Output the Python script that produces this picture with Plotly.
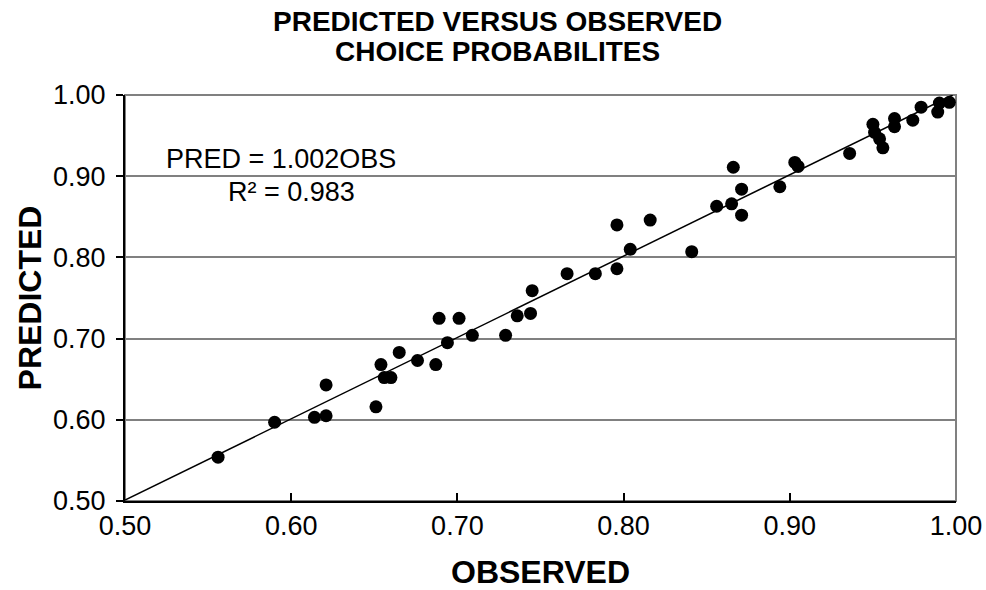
import plotly.graph_objects as go

observed = [0.556, 0.590, 0.614, 0.621, 0.621, 0.651, 0.654, 0.656, 0.660, 0.665,
            0.676, 0.687, 0.689, 0.694, 0.701, 0.709, 0.729, 0.736, 0.744, 0.745,
            0.766, 0.783, 0.796, 0.796, 0.804, 0.816, 0.841, 0.856, 0.865, 0.866,
            0.871, 0.871, 0.894, 0.903, 0.905, 0.936, 0.950, 0.951, 0.954, 0.956,
            0.963, 0.963, 0.974, 0.979, 0.989, 0.990, 0.996]
predicted = [0.554, 0.597, 0.603, 0.605, 0.643, 0.616, 0.668, 0.652, 0.652, 0.683,
             0.673, 0.668, 0.725, 0.695, 0.725, 0.704, 0.704, 0.728, 0.731, 0.759,
             0.780, 0.780, 0.786, 0.840, 0.810, 0.846, 0.807, 0.863, 0.866, 0.911,
             0.884, 0.852, 0.887, 0.917, 0.912, 0.928, 0.964, 0.954, 0.946, 0.935,
             0.971, 0.961, 0.969, 0.985, 0.979, 0.990, 0.991]
slope = 1.002
fit_x = [0.50, 1.0 / slope]
fit_y = [slope * v for v in fit_x]
tick_vals = [0.5, 0.6, 0.7, 0.8, 0.9, 1.0]
tick_text = ["0.50", "0.60", "0.70", "0.80", "0.90", "1.00"]
title_lines = ["PREDICTED VERSUS OBSERVED", "CHOICE PROBABILITES"]

FONT = "Liberation Sans, Arial, sans-serif"
W, H = 986, 590
ML, MR, MT, MB = 125, 30, 95, 89
plot_w = W - ML - MR
plot_h = H - MT - MB

fig = go.Figure()
fig.add_trace(go.Scatter(x=fit_x, y=fit_y, mode="lines",
                         line=dict(color="black", width=1.5), showlegend=False,
                         hoverinfo="skip"))
fig.add_trace(go.Scatter(x=observed, y=predicted, mode="markers",
                         marker=dict(color="black", size=13), showlegend=False))

fig.add_shape(type="rect", xref="paper", yref="paper", x0=0, y0=0, x1=1, y1=1,
              line=dict(color="#808080", width=2), layer="below")

# chart title (two lines), placed by pixel row
title_cx = (497 - ML) / plot_w
for text, row in zip(title_lines, [22, 52]):
    fig.add_annotation(x=title_cx, y=1 + (MT - row) / plot_h,
                       xref="paper", yref="paper",
                       text="<b>%s</b>" % text, showarrow=False,
                       xanchor="center", yanchor="middle", borderpad=0,
                       font=dict(family=FONT, size=28, color="black"))

fig.add_annotation(x=0.5235, y=0.921, xref="x", yref="y", text="PRED = 1.002OBS",
                   showarrow=False, xanchor="left", yanchor="middle",
                   font=dict(family=FONT, size=27, color="black"))
fig.add_annotation(x=0.5605, y=0.881, xref="x", yref="y", text="R² = 0.983",
                   showarrow=False, xanchor="left", yanchor="middle",
                   font=dict(family=FONT, size=27, color="black"))

fig.update_layout(
    width=W, height=H,
    margin=dict(l=ML, r=MR, t=MT, b=MB),
    paper_bgcolor="white", plot_bgcolor="white",
    font=dict(family=FONT, color="black"),
)

fig.update_xaxes(range=[0.5, 1.0], tickvals=tick_vals, ticktext=tick_text,
                 automargin=False, showgrid=False, zeroline=False,
                 showline=True, linecolor="black", linewidth=2,
                 ticks="inside", ticklen=8, tickcolor="black", tickwidth=1.5,
                 tickfont=dict(family=FONT, size=27, color="black"),
                 title=dict(text="<b>OBSERVED</b>", standoff=20,
                            font=dict(family=FONT, size=32, color="black")))
fig.update_yaxes(range=[0.5, 1.0], tickvals=tick_vals, ticktext=tick_text,
                 automargin=False, showgrid=True, gridcolor="#808080", gridwidth=1.5,
                 zeroline=False,
                 showline=True, linecolor="black", linewidth=2,
                 ticks="outside", ticklen=7, tickcolor="black", tickwidth=1.5,
                 ticklabelstandoff=5,
                 tickfont=dict(family=FONT, size=27, color="black"),
                 title=dict(text="<b>PREDICTED</b>", standoff=2,
                            font=dict(family=FONT, size=32, color="black")))

fig.write_html("out.html",
               config={"displayModeBar": False},
               post_script="document.body.style.margin='0';"
                           "document.body.style.overflow='hidden';")
